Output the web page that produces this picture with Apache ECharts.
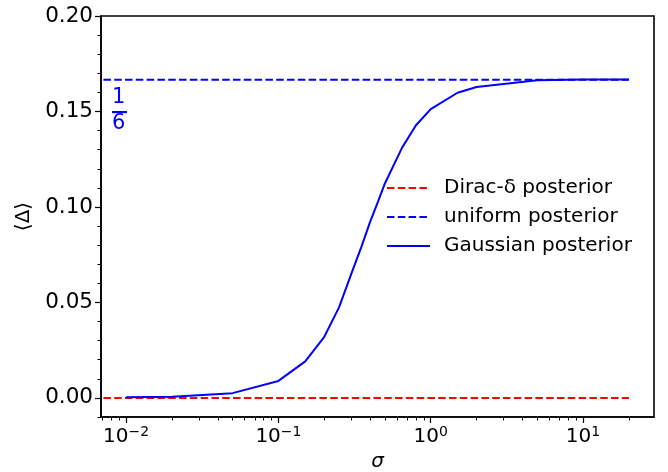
<!DOCTYPE html>
<html>
<head>
<meta charset="utf-8">
<script src="https://cdn.jsdelivr.net/npm/echarts@6/dist/echarts.min.js"></script>
<style>
  html, body { margin: 0; padding: 0; background: #fff; }
  #chart { width: 668px; height: 472px; }
</style>
</head>
<body>
<div id="chart"></div>
<script>
// sigma values and <Delta>
const sigma = [0.01, 0.02, 0.05, 0.1, 0.15, 0.2, 0.25, 0.3, 0.35, 0.4, 0.45, 0.5, 0.65, 0.8, 1, 1.5, 2, 5, 10, 20]
const gaussian = [0.0003, 0.0006, 0.0025, 0.0089, 0.0191, 0.032, 0.0474, 0.0647, 0.079, 0.0922, 0.1027, 0.1123, 0.1312, 0.1428, 0.1512, 0.1598, 0.1628, 0.1663, 0.1667, 0.1667]
// the two reference lines run in from beyond the left edge up to sigma = 20
const hlineX = [0.001, 20]
const dirac = [0, 0]
const uniform = [1 / 6, 1 / 6]

const xMajor = [0.01, 0.1, 1, 10]
const xMinor = [0.007, 0.008, 0.009, 0.02, 0.03, 0.04, 0.05, 0.06, 0.07, 0.08, 0.09,
  0.2, 0.3, 0.4, 0.5, 0.6, 0.7, 0.8, 0.9, 2, 3, 4, 5, 6, 7, 8, 9, 20]
const yMajor = [0, 0.05, 0.1, 0.15, 0.2]
const yMinor = [-0.01, 0.01, 0.02, 0.03, 0.04, 0.06, 0.07, 0.08, 0.09, 0.11, 0.12, 0.13, 0.14, 0.16, 0.17, 0.18, 0.19]

const FONT = 'DejaVu Sans'
const xMin = Math.pow(10, -2.165)
const xMax = Math.pow(10, 1.466)

const pairs = (xs, ys) => xs.map((x, i) => [x, ys[i]])

const chart = echarts.init(document.getElementById('chart'))
chart.setOption({
  animation: false,
  textStyle: { fontFamily: FONT },
  grid: {
    left: 101, right: 14, top: 16, bottom: 55,
    outerBoundsMode: 'none', containLabel: false,
    show: true, borderColor: '#000', borderWidth: 1.6
  },
  legend: {
    orient: 'vertical',
    left: 381, top: 173,
    itemWidth: 43, itemHeight: 14, itemGap: 9,
    itemStyle: { opacity: 0 },
    textStyle: { fontFamily: FONT, fontSize: 20, color: '#000', padding: [0, 0, 0, 9] },
    data: ['Dirac-δ posterior', 'uniform posterior', 'Gaussian posterior']
  },
  xAxis: [{
    type: 'log', min: xMin, max: xMax,
    name: 'σ', nameLocation: 'middle', nameGap: 35,
    nameTextStyle: { fontFamily: FONT, fontSize: 20, fontStyle: 'italic', color: '#000' },
    axisLine: { show: true, onZero: false, lineStyle: { color: '#000', width: 1.6 } },
    axisTick: { show: true, length: 6, lineStyle: { color: '#000', width: 1.2 }, customValues: xMajor },
    axisLabel: {
      customValues: xMajor, margin: 8, color: '#000',
      formatter: v => {
        const e = Math.round(Math.log10(v))
        return '{b|10}{s|' + (e < 0 ? '−' : '') + Math.abs(e) + '}'
      },
      rich: {
        b: { fontFamily: FONT, fontSize: 20, color: '#000', verticalAlign: 'bottom' },
        s: { fontFamily: FONT, fontSize: 14, color: '#000', verticalAlign: 'top', padding: [0, 0, 8, 0] }
      }
    },
    splitLine: { show: false }
  }, {
    type: 'log', min: xMin, max: xMax, position: 'bottom',
    axisLine: { show: false, onZero: false },
    axisTick: { show: true, length: 3.5, lineStyle: { color: '#000', width: 1 }, customValues: xMinor },
    axisLabel: { show: false },
    splitLine: { show: false }
  }],
  yAxis: [{
    type: 'value', min: -0.01, max: 0.2,
    name: '⟨Δ⟩', nameLocation: 'middle', nameGap: 65, nameRotate: 90,
    nameTextStyle: { fontFamily: FONT, fontSize: 20, color: '#000' },
    axisLine: { show: true, onZero: false, lineStyle: { color: '#000', width: 1.6 } },
    axisTick: { show: true, length: 6, lineStyle: { color: '#000', width: 1.2 }, customValues: yMajor },
    axisLabel: {
      customValues: yMajor, margin: 8, color: '#000', fontSize: 21.5, fontFamily: FONT,
      formatter: v => v.toFixed(2)
    },
    splitLine: { show: false }
  }, {
    type: 'value', min: -0.01, max: 0.2, position: 'left',
    axisLine: { show: false, onZero: false },
    axisTick: { show: true, length: 3.5, lineStyle: { color: '#000', width: 1 }, customValues: yMinor },
    axisLabel: { show: false },
    splitLine: { show: false }
  }],
  series: [{
    name: 'Dirac-δ posterior', type: 'line', data: pairs(hlineX, dirac),
    symbol: 'none', color: '#ff0000', clip: true,
    lineStyle: { color: '#ff0000', width: 2, type: [7.5, 3.3] }
  }, {
    name: 'uniform posterior', type: 'line', data: pairs(hlineX, uniform),
    symbol: 'none', color: '#0000ff', clip: true,
    lineStyle: { color: '#0000ff', width: 2, type: [7.5, 3.3] }
  }, {
    name: 'Gaussian posterior', type: 'line', data: pairs(sigma, gaussian),
    symbol: 'none', color: '#0000ff',
    lineStyle: { color: '#0000ff', width: 2 }
  }],
  graphic: [
    { type: 'text', left: 112, top: 87, style: { text: '1', fontFamily: FONT, fontSize: 21, fill: '#0000ff' } },
    { type: 'rect', shape: { x: 112, y: 111, width: 15, height: 2.2 }, style: { fill: '#0000ff' } },
    { type: 'text', left: 112, top: 113, style: { text: '6', fontFamily: FONT, fontSize: 21, fill: '#0000ff' } }
  ]
})
</script>
</body>
</html>
